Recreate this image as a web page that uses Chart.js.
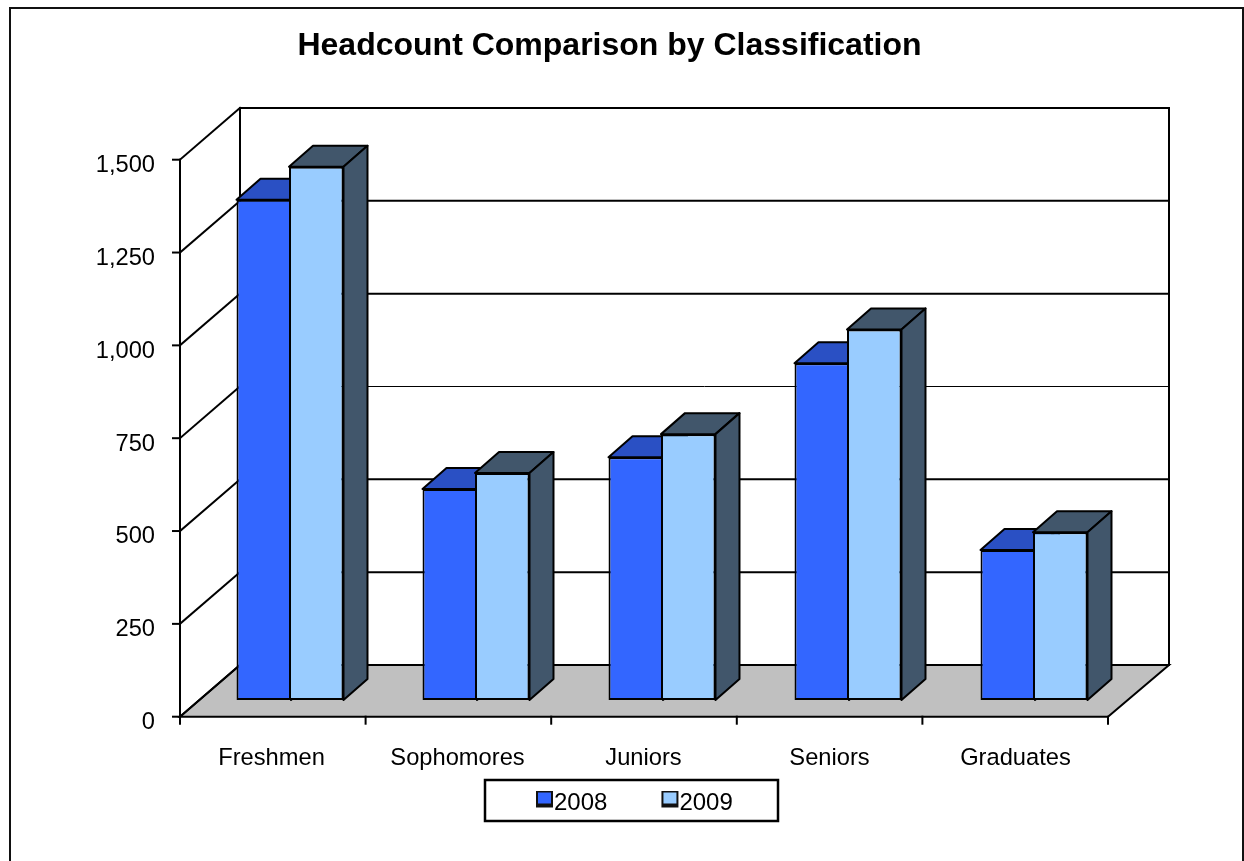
<!DOCTYPE html>
<html>
<head>
<meta charset="utf-8">
<title>Headcount Comparison by Classification</title>
<script src="https://cdn.jsdelivr.net/npm/chart.js@4/dist/chart.umd.min.js"></script>
<style>
html, body { margin: 0; padding: 0; background: #fff; }
canvas { display: block; }
</style>
</head>
<body>
<canvas id="chartHC" width="1244" height="861"></canvas>
<script>
const categories = ['Freshmen', 'Sophomores', 'Juniors', 'Seniors', 'Graduates'];
const years = ['2008', '2009'];
const values2008 = [1347, 568, 654, 907, 404];
const values2009 = [1436, 611, 716, 998, 452];

const faceColors = ['#3366FF', '#99CCFF'];
const topColors = ['#2A50C4', '#41566B'];
const sideColors = ['#24439F', '#41566B'];

// offsets from the plane the bars stand on
const front = {dx: -17, dy: 16.7, width: 928};
const back = {dx: 43, dy: -35, width: 929};
const depth = {dx: 24, dy: -21};

function poly(ctx, pts, fill) {
    ctx.beginPath();
    pts.forEach((p, i) => i ? ctx.lineTo(p[0], p[1]) : ctx.moveTo(p[0], p[1]));
    ctx.closePath();
    if (fill) {
        ctx.fillStyle = fill;
        ctx.fill();
    }
    ctx.stroke();
}

function line(ctx, x1, y1, x2, y2, w) {
    ctx.lineWidth = w || 2;
    ctx.beginPath();
    ctx.moveTo(x1, y1);
    ctx.lineTo(x2, y2);
    ctx.stroke();
}

function swatch(color) {
    const c = document.createElement('canvas');
    c.width = 30;
    c.height = 26;
    const g = c.getContext('2d');
    g.fillStyle = '#111';
    g.fillRect(12, 0, 17, 17);
    g.fillStyle = color;
    g.fillRect(14, 2, 13, 11);
    return c;
}

const frame3d = {
    id: 'frame3d',
    afterLayout(chart) {
        const t = chart.titleBlock;
        t.left = 109;
        t.right = 1110;
        const l = chart.legend;
        l.left = 482;
        l.right = 800;
        l.top = 737.5;
        l.bottom = 850;
    },
    beforeDraw(chart) {
        const ctx = chart.ctx;
        const xs = chart.scales.x;
        const ys = chart.scales.y;
        const y0 = ys.getPixelForValue(0);
        const left = xs.left;
        const frontL = left + front.dx;
        const frontR = frontL + front.width;
        const backL = left + back.dx;
        const backR = backL + back.width;
        ctx.save();
        ctx.lineCap = 'square';

        // outer frame runs off the bottom of the picture
        ctx.strokeStyle = '#111';
        ctx.lineWidth = 2;
        ctx.strokeRect(10, 8, 1233, 900);
        ctx.strokeStyle = '#000';

        // floor
        ctx.lineWidth = 2;
        poly(ctx, [
            [frontL, y0 + front.dy],
            [backL, y0 + back.dy],
            [backR, y0 + back.dy],
            [frontR, y0 + front.dy]
        ], '#C0C0C0');

        // back and left walls
        ys.ticks.forEach(t => {
            const y = ys.getPixelForValue(t.value);
            line(ctx, backL, y + back.dy, backR, y + back.dy, t.value === 750 ? 1 : 2);
            line(ctx, frontL, y + front.dy, backL, y + back.dy, 2);
            line(ctx, frontL - 7, y + front.dy, frontL, y + front.dy, 2);
        });
        const yTop = ys.getPixelForValue(1500);
        line(ctx, backL, yTop + back.dy, backL, y0 + back.dy, 2);
        line(ctx, backR, yTop + back.dy, backR, y0 + back.dy, 2);
        line(ctx, frontL, yTop + front.dy, frontL, y0 + front.dy, 2);

        // category ticks on the front edge
        for (let i = 0; i <= categories.length; i++) {
            const x = frontL + front.width * i / categories.length;
            line(ctx, x, y0 + front.dy, x, y0 + front.dy + 7, 2);
        }

        // top and side faces, the front faces are the bars themselves
        ctx.lineWidth = 2;
        ctx.lineJoin = 'round';
        chart.data.datasets.forEach((ds, i) => {
            chart.getDatasetMeta(i).data.forEach(bar => {
                const x1 = bar.x - bar.width / 2;
                const x2 = bar.x + bar.width / 2;
                poly(ctx, [[x1, bar.y], [x1 + depth.dx, bar.y + depth.dy], [x2 + depth.dx, bar.y + depth.dy], [x2, bar.y]], topColors[i]);
                poly(ctx, [[x2, bar.y], [x2 + depth.dx, bar.y + depth.dy], [x2 + depth.dx, bar.base + depth.dy], [x2, bar.base]], sideColors[i]);
            });
        });
        ctx.restore();
    },
    afterDraw(chart) {
        const ctx = chart.ctx;
        ctx.save();
        ctx.strokeStyle = '#000';
        ctx.lineWidth = 2.5;
        ctx.strokeRect(485, 780, 293, 41);
        ctx.restore();
    }
};

const chartFont = 'Liberation Sans, Arial, sans-serif';

new Chart(document.getElementById('chartHC'), {
    type: 'bar',
    data: {
        labels: categories,
        datasets: [
            {label: years[0], data: values2008, backgroundColor: faceColors[0], borderColor: '#000', borderWidth: 2, borderSkipped: false, clip: false},
            {label: years[1], data: values2009, backgroundColor: faceColors[1], borderColor: '#000', borderWidth: 2, borderSkipped: false, clip: false}
        ]
    },
    options: {
        responsive: false,
        animation: false,
        devicePixelRatio: 1,
        layout: {autoPadding: false, padding: {left: 0, top: 0, right: 117, bottom: 0}},
        // bars overlap a little so the seam between them is one border wide
        datasets: {bar: {barPercentage: 1.038, categoryPercentage: 0.5645}},
        plugins: {
            tooltip: {enabled: false},
            title: {
                display: true,
                text: 'Headcount Comparison by Classification',
                color: '#000',
                font: {family: chartFont, size: 32, weight: 'bold', lineHeight: 1.2},
                padding: {top: 27, bottom: 77.6}
            },
            legend: {
                position: 'bottom',
                align: 'start',
                labels: {
                    color: '#000',
                    font: {family: chartFont, size: 24},
                    usePointStyle: true,
                    pointStyleWidth: 6,
                    boxHeight: 18,
                    padding: 54,
                    generateLabels(chart) {
                        return chart.data.datasets.map((ds, i) => ({
                            text: ds.label,
                            datasetIndex: i,
                            fontColor: '#000',
                            pointStyle: swatch(faceColors[i]),
                            lineWidth: 0
                        }));
                    }
                }
            }
        },
        scales: {
            x: {
                grid: {display: false},
                border: {display: false},
                afterFit(scale) { scale.height = 161 - scale.chart.legend.height; },
                ticks: {
                    color: '#000',
                    font: {family: chartFont, size: 23.7},
                    padding: 36,
                    labelOffset: -18.5,
                    autoSkip: false,
                    maxRotation: 0
                }
            },
            y: {
                min: 0,
                max: 1500,
                grid: {display: false},
                border: {display: false},
                afterFit(scale) { scale.width = 197; },
                ticks: {
                    stepSize: 250,
                    color: '#000',
                    font: {family: chartFont, size: 23.7},
                    padding: 34,
                    labelOffset: 22.5,
                    callback: v => v.toLocaleString('en-US')
                }
            }
        }
    },
    plugins: [frame3d]
});
</script>
</body>
</html>
